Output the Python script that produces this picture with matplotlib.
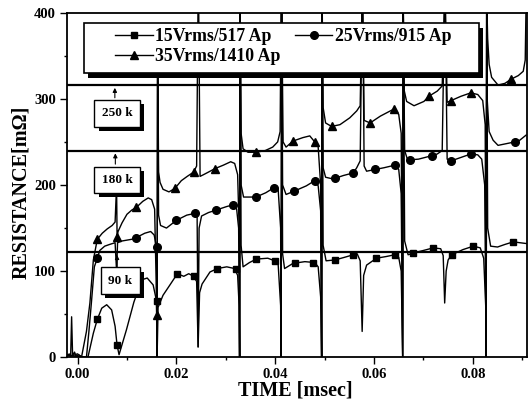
import matplotlib
matplotlib.use("Agg")
import matplotlib.pyplot as plt
import matplotlib.patheffects as pe
from matplotlib.lines import Line2D
from matplotlib.patches import Rectangle

plt.rcParams["font.family"] = ["Liberation Serif", "DejaVu Serif"]
plt.rcParams["font.weight"] = "bold"

# 15Vrms/517 Ap  (squares)
sq_t = [-0.0022, -0.0017, -0.0014, -0.0012, -0.0010, -0.0006, -0.0003, 0.0002, 0.0010, 0.0021,
        0.0032, 0.0040, 0.0049, 0.0059, 0.0069, 0.0076, 0.0080, 0.0084, 0.0099, 0.0114,
        0.0130, 0.0141, 0.0153, 0.0160, 0.0161, 0.0163, 0.0173, 0.0187, 0.0202, 0.0215,
        0.0225, 0.0235, 0.0241, 0.0244, 0.0247, 0.0252, 0.0268, 0.0283, 0.0302, 0.0318,
        0.0324, 0.0327, 0.0328, 0.0329, 0.0331, 0.0335, 0.0348, 0.0362, 0.0385, 0.0399,
        0.0406, 0.0411, 0.0412, 0.0413, 0.0415, 0.0419, 0.0436, 0.0460, 0.0480, 0.0487,
        0.0492, 0.0494, 0.0495, 0.0497, 0.0503, 0.0521, 0.0540, 0.0558, 0.0566, 0.0572,
        0.0576, 0.0579, 0.0585, 0.0605, 0.0625, 0.0642, 0.0650, 0.0655, 0.0658, 0.0659,
        0.0662, 0.0669, 0.0679, 0.0700, 0.0720, 0.0735, 0.0740, 0.0743, 0.0746, 0.0750,
        0.0757, 0.0780, 0.0801, 0.0815, 0.0822, 0.0826, 0.0827, 0.0828, 0.0830, 0.0836,
        0.0850, 0.0865, 0.0882, 0.0895, 0.0909]
sq_r = [0, 4, 0, 47, 2, 6, 1, 3, 0, 0,
        28, 44, 57, 61, 55, 36, 14, 3, 32, 64,
        90, 92, 84, 65, 0, 58, 72, 84, 97, 94,
        97, 94, 88, 12, 75, 85, 99, 103, 105, 103,
        95, 60, 0, 420, 130, 105, 110, 114, 115, 112,
        108, 60, 0, 420, 120, 103, 109, 111, 110, 105,
        70, 0, 420, 130, 112, 113, 116, 119, 120, 112,
        30, 95, 107, 115, 117, 119, 116, 100, 0, 420,
        135, 119, 121, 124, 127, 126, 118, 63, 100, 113,
        119, 125, 129, 127, 115, 60, 0, 420, 150, 129,
        128, 131, 134, 133, 132]
sq_mark_t = [0.0040, 0.0080, 0.0160, 0.0202, 0.0235, 0.0283, 0.0320, 0.0362, 0.0399, 0.0440,
             0.0477, 0.0521, 0.0558, 0.0605, 0.0642, 0.0679, 0.0720, 0.0757, 0.0801, 0.0882]
sq_mark_r = [44, 14, 65, 97, 94, 103, 102, 114, 112, 109,
             110, 113, 119, 115, 119, 121, 127, 119, 129, 134]

# 25Vrms/915 Ap  (circles)
ci_t = [-0.0022, 0.0005, 0.0018, 0.0023, 0.0028, 0.0034, 0.0040, 0.0045, 0.0055, 0.0065,
        0.0076, 0.0079, 0.0081, 0.0090, 0.0100, 0.0110, 0.0119, 0.0136, 0.0148, 0.0155,
        0.0160, 0.0161, 0.0162, 0.0164, 0.0168, 0.0180, 0.0200, 0.0221, 0.0237, 0.0242,
        0.0244, 0.0246, 0.0251, 0.0265, 0.0281, 0.0302, 0.0315, 0.0322, 0.0326, 0.0328,
        0.0329, 0.0331, 0.0336, 0.0361, 0.0381, 0.0398, 0.0406, 0.0411, 0.0412, 0.0413,
        0.0415, 0.0422, 0.0439, 0.0463, 0.0480, 0.0487, 0.0492, 0.0494, 0.0495, 0.0497,
        0.0502, 0.0517, 0.0538, 0.0558, 0.0565, 0.0572, 0.0576, 0.0577, 0.0580, 0.0585,
        0.0602, 0.0620, 0.0642, 0.0650, 0.0655, 0.0658, 0.0659, 0.0662, 0.0668, 0.0690,
        0.0717, 0.0728, 0.0738, 0.0743, 0.0744, 0.0748, 0.0756, 0.0776, 0.0796, 0.0810,
        0.0818, 0.0824, 0.0827, 0.0828, 0.0829, 0.0833, 0.0841, 0.0851, 0.0868, 0.0885,
        0.0895, 0.0908]
ci_r = [2, 1, 0, 30, 63, 105, 115, 124, 129, 131,
        133, 100, 133, 135, 136, 137, 139, 144, 146, 142,
        128, 0, 380, 165, 153, 150, 159, 165, 167, 163,
        12, 150, 164, 168, 171, 175, 177, 172, 150, 0,
        420, 200, 186, 186, 191, 197, 195, 150, 0, 420,
        200, 189, 193, 199, 205, 199, 170, 0, 420, 220,
        209, 207, 211, 214, 220, 228, 420, 420, 222, 216,
        218, 220, 223, 218, 190, 0, 420, 240, 229, 230,
        234, 236, 240, 420, 420, 230, 228, 232, 236, 235,
        230, 200, 0, 420, 300, 262, 252, 246, 248, 250,
        252, 258]
ci_mark_t = [0.0040, 0.0119, 0.0160, 0.0200, 0.0237, 0.0281, 0.0315, 0.0361, 0.0398, 0.0439,
             0.0480, 0.0521, 0.0558, 0.0602, 0.0642, 0.0672, 0.0717, 0.0756, 0.0796, 0.0885]
ci_mark_r = [115, 139, 128, 159, 167, 171, 177, 186, 197, 193,
             205, 208, 214, 218, 223, 229, 234, 228, 236, 250]

# 35Vrms/1410 Ap  (triangles)
tr_t = [-0.0022, -0.0010, 0.0000, 0.0008, 0.0018, 0.0025, 0.0032, 0.0040, 0.0050, 0.0060,
        0.0070, 0.0076, 0.0079, 0.0080, 0.0082, 0.0090, 0.0100, 0.0110, 0.0119, 0.0132,
        0.0143, 0.0150, 0.0156, 0.0159, 0.0160, 0.0161, 0.0162, 0.0164, 0.0167, 0.0173,
        0.0185, 0.0197, 0.0210, 0.0222, 0.0235, 0.0241, 0.0244, 0.0245, 0.0248, 0.0255,
        0.0265, 0.0278, 0.0295, 0.0310, 0.0318, 0.0324, 0.0327, 0.0328, 0.0329, 0.0331,
        0.0335, 0.0345, 0.0361, 0.0380, 0.0395, 0.0405, 0.0410, 0.0412, 0.0413, 0.0416,
        0.0422, 0.0436, 0.0456, 0.0470, 0.0480, 0.0487, 0.0492, 0.0494, 0.0495, 0.0497,
        0.0502, 0.0514, 0.0531, 0.0551, 0.0565, 0.0572, 0.0576, 0.0577, 0.0580, 0.0592,
        0.0613, 0.0633, 0.0640, 0.0650, 0.0655, 0.0658, 0.0659, 0.0661, 0.0666, 0.0681,
        0.0701, 0.0711, 0.0728, 0.0738, 0.0743, 0.0744, 0.0748, 0.0756, 0.0776, 0.0796,
        0.0810, 0.0820, 0.0825, 0.0827, 0.0828, 0.0830, 0.0833, 0.0838, 0.0851, 0.0865,
        0.0878, 0.0892, 0.0902, 0.0906, 0.0908]
tr_r = [3, 2, 4, 0, 30, 63, 113, 137, 144, 149,
        153, 157, 200, 140, 146, 156, 166, 171, 174, 181,
        185, 183, 172, 90, 49, 0, 380, 215, 203, 195,
        192, 196, 205, 210, 215, 222, 420, 420, 210, 212,
        215, 219, 223, 227, 225, 212, 150, 0, 420, 260,
        242, 238, 238, 240, 244, 250, 262, 420, 420, 250,
        244, 251, 255, 257, 250, 244, 200, 0, 420, 290,
        272, 268, 270, 278, 286, 292, 420, 420, 275, 272,
        280, 286, 288, 282, 260, 0, 420, 310, 297, 292,
        297, 303, 309, 315, 420, 420, 296, 298, 303, 307,
        305, 298, 270, 0, 420, 370, 340, 325, 316, 318,
        323, 327, 332, 345, 420]
tr_mark_t = [0.0040, 0.0080, 0.0119, 0.0160, 0.0197, 0.0235, 0.0278, 0.0361, 0.0436, 0.0480,
             0.0514, 0.0592, 0.0640, 0.0711, 0.0756, 0.0796, 0.0878]
tr_mark_r = [137, 140, 174, 49, 196, 215, 219, 238, 251, 250,
             268, 272, 288, 303, 298, 307, 323]

labels = ["15Vrms/517 Ap", "25Vrms/915 Ap", "35Vrms/1410 Ap"]
level_lines = [122, 240, 316]
level_labels = ["90 k", "180 k", "250 k"]

fig = plt.figure(figsize=(5.30, 4.11), dpi=100)
ax = fig.add_axes([0.1258, 0.1307, 0.8689, 0.8384])

ax.plot(sq_t, sq_r, color="black", lw=1.0)
ax.plot(ci_t, ci_r, color="black", lw=1.0)
ax.plot(tr_t, tr_r, color="black", lw=1.0)
ax.plot(sq_mark_t, sq_mark_r, ls="none", marker="s", ms=5, color="black")
ax.plot(ci_mark_t, ci_mark_r, ls="none", marker="o", ms=5.5, color="black")
ax.plot(tr_mark_t, tr_mark_r, ls="none", marker="^", ms=6, color="black")

for y in level_lines:
    ax.axhline(y, color="black", lw=1.6, zorder=3)

# level boxes with arrows
shadow = [pe.SimplePatchShadow(offset=(3, -3), shadow_rgbFace="black", alpha=1), pe.Normal()]
box_pos = [(0.00866, 89, 0.0080, 101), (0.0080, 206, 0.00765, 221), (0.0080, 283, 0.00755, 298)]
for (bx, by, ax_x, ay), lev, lab in zip(box_pos, level_lines, level_labels):
    ax.annotate("", xy=(ax_x, lev), xytext=(ax_x, ay),
                arrowprops=dict(arrowstyle="-|>", lw=0.8, color="black", mutation_scale=6),
                zorder=6)
    t = ax.text(bx, by, lab, ha="center", va="center", fontsize=9.5, fontweight="bold",
                bbox=dict(boxstyle="square,pad=0.55", fc="white", ec="black", lw=1.0),
                zorder=7)
    t.get_bbox_patch().set_path_effects(shadow)

# legend frame with shadow
frame = Rectangle((0.0376, 0.824), 0.858, 0.145, transform=ax.transAxes,
                  fc="white", ec="black", lw=1.2, zorder=8)
frame.set_path_effects(shadow)
ax.add_patch(frame)
handles = [Line2D([], [], color="black", lw=1.0, marker="s", ms=5),
           Line2D([], [], color="black", lw=1.0, marker="^", ms=6),
           Line2D([], [], color="black", lw=1.0, marker="o", ms=5.5)]
leg = ax.legend(handles, [labels[0], labels[2], labels[1]], ncol=2, frameon=False,
                loc="upper left", bbox_to_anchor=(0.106, 0.955), borderaxespad=0, borderpad=0,
                handlelength=2.1, handletextpad=0.15, columnspacing=0.8, labelspacing=0.15,
                prop={"family": "Liberation Serif", "weight": "bold", "size": 12.8})
leg.set_zorder(9)

ax.set_xlim(-0.0022, 0.0910)
ax.set_ylim(0, 400)
ax.set_xticks([0.00, 0.02, 0.04, 0.06, 0.08])
ax.set_xticklabels(["0.00", "0.02", "0.04", "0.06", "0.08"])
ax.set_xticks([0.01, 0.03, 0.05, 0.07, 0.09], minor=True)
ax.set_yticks([0, 100, 200, 300, 400])
ax.set_yticks([50, 150, 250, 350], minor=True)
ax.tick_params(which="major", direction="out", length=4.8, width=1.0, labelsize=10.5, pad=3)
ax.tick_params(which="minor", direction="out", length=2.5, width=1.0)
for s in ax.spines.values():
    s.set_linewidth(1.3)

ax.set_xlabel("TIME [msec]", fontsize=14.5, fontweight="bold")
ax.set_ylabel("RESISTANCE[mΩ]", fontsize=14.5, fontweight="bold")
ax.xaxis.set_label_coords(0.497, -0.066)
ax.yaxis.set_label_coords(-0.076, 0.48)

fig.savefig("out.png", dpi=100)
